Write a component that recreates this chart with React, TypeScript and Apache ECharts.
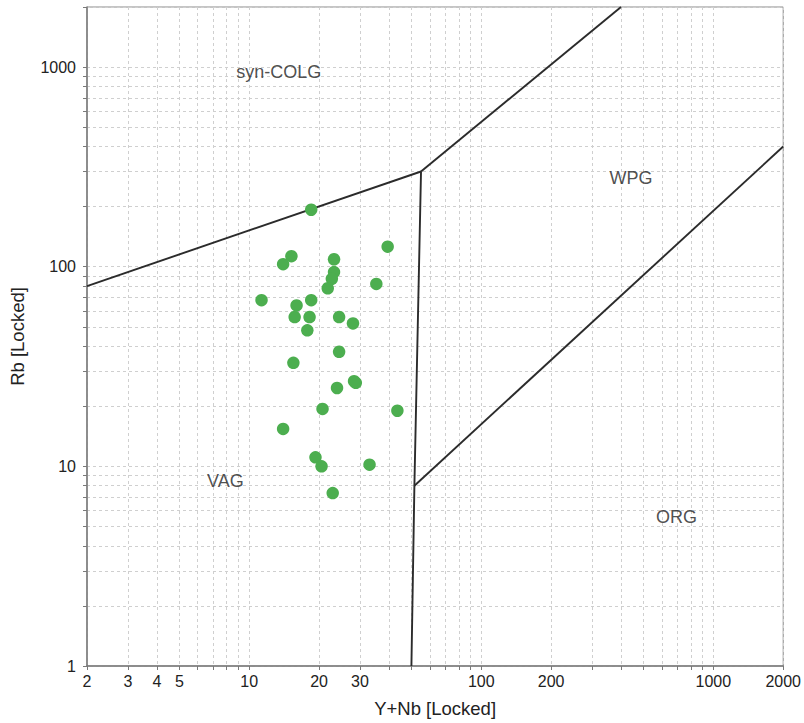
import React, { useEffect, useRef } from "react";
import * as echarts from "echarts";

// Sample points: [Y+Nb, Rb]
const samplePoints: number[][] = [
  [18.5, 193], [39.5, 126], [15.2, 113], [14.0, 103], [23.2, 109],
  [23.2, 94], [22.7, 87], [21.8, 78], [35.3, 82], [11.3, 68],
  [18.5, 68], [16.0, 64], [15.7, 56], [18.2, 56], [24.4, 56],
  [28.0, 52], [17.8, 48], [24.4, 37.5], [15.5, 33], [28.3, 26.7],
  [28.8, 26.2], [23.9, 24.7], [20.7, 19.4], [43.5, 19], [14.0, 15.4],
  [19.3, 11.1], [20.5, 10], [33.0, 10.2], [22.9, 7.35],
];

// Discrimination boundaries (Pearce et al. 1984)
const boundaryColgVag: number[][] = [[2, 80], [55, 300]];
const boundaryColgWpg: number[][] = [[55, 300], [400, 2000]];
const boundaryVagWpgOrg: number[][] = [[55, 300], [51.5, 8], [50, 1]];
const boundaryWpgOrg: number[][] = [[51.5, 8], [2000, 400]];

const fieldNames = ["syn-COLG", "WPG", "VAG", "ORG"];
const fieldPositions: number[][] = [[13.4, 944], [442, 279], [7.9, 8.4], [694, 5.6]];

const xTickValues = [2, 3, 4, 5, 6, 7, 8, 9, 10, 20, 30, 40, 50, 60, 70, 80, 90, 100, 200, 300, 400, 500, 600, 700, 800, 900, 1000, 2000];
const xLabelValues = [2, 3, 4, 5, 10, 20, 30, 100, 200, 1000, 2000];
const yTickValues = [1, 2, 3, 4, 5, 6, 7, 8, 9, 10, 20, 30, 40, 50, 60, 70, 80, 90, 100, 200, 300, 400, 500, 600, 700, 800, 900, 1000, 2000];
const yLabelValues = [1, 10, 100, 1000];

export default function App() {
  const ref = useRef<HTMLDivElement>(null);
  useEffect(() => {
    if (!ref.current) return;
    const chart = echarts.init(ref.current, null, { renderer: "svg" });
    const lineStyle = { color: "#2b2b2b", width: 1.9 };
    const boundary = (data: number[][]) => ({
      type: "line" as const,
      data,
      symbol: "none",
      lineStyle,
      silent: true,
      z: 3,
    });
    const font = "Liberation Sans, Arial, sans-serif";
    chart.setOption({
      animation: false,
      grid: {
        left: 87,
        right: 12,
        top: 7,
        bottom: 56,
        show: true,
        borderColor: "#8a8a8a",
        borderWidth: 1,
        backgroundColor: "#fff",
      },
      xAxis: {
        type: "log",
        logBase: 10,
        min: 2,
        max: 2000,
        name: "Y+Nb [Locked]",
        nameLocation: "middle",
        nameGap: 33,
        nameTextStyle: { fontFamily: font, fontSize: 18.5, color: "#222" },
        axisLine: { lineStyle: { color: "#7a7a7a", width: 1.5 } },
        axisTick: { show: true, length: 4, inside: false, customValues: xTickValues, lineStyle: { color: "#7a7a7a" } },
        axisLabel: { customValues: xLabelValues, fontFamily: font, fontSize: 16, color: "#222", margin: 7, formatter: (v: number) => String(Math.round(v)) },
        splitLine: { show: true, lineStyle: { color: "#cfcfcf", type: [3, 3], width: 1 } },
      },
      yAxis: {
        type: "log",
        logBase: 10,
        min: 1,
        max: 2000,
        name: "Rb [Locked]",
        nameLocation: "middle",
        nameGap: 60,
        nameTextStyle: { fontFamily: font, fontSize: 18.5, color: "#222" },
        axisLine: { lineStyle: { color: "#7a7a7a", width: 1.5 } },
        axisTick: { show: true, length: 4, customValues: yTickValues, lineStyle: { color: "#7a7a7a" } },
        axisLabel: { customValues: yLabelValues, fontFamily: font, fontSize: 16, color: "#222", margin: 11, formatter: (v: number) => String(Math.round(v)) },
        splitLine: { show: true, lineStyle: { color: "#cfcfcf", type: [3, 3], width: 1 } },
      },
      series: [
        boundary(boundaryColgVag),
        boundary(boundaryColgWpg),
        boundary(boundaryVagWpgOrg),
        boundary(boundaryWpgOrg),
        {
          type: "scatter",
          data: samplePoints,
          symbol: "circle",
          symbolSize: 12.5,
          itemStyle: { color: "#4cae4f", opacity: 1 },
          z: 4,
        },
        {
          type: "scatter",
          data: fieldNames.map((n, i) => ({ name: n, value: fieldPositions[i] })),
          symbolSize: 0,
          silent: true,
          label: {
            show: true,
            position: "inside",
            formatter: (p: any) => p.name,
            fontFamily: font,
            fontSize: 18,
            color: "#222",
          },
          z: 5,
        },
      ],
    });
    return () => chart.dispose();
  }, []);
  return <div ref={ref} style={{ position: "fixed", left: 0, top: 0, width: 804, height: 723, background: "#fff" }} />;
}
